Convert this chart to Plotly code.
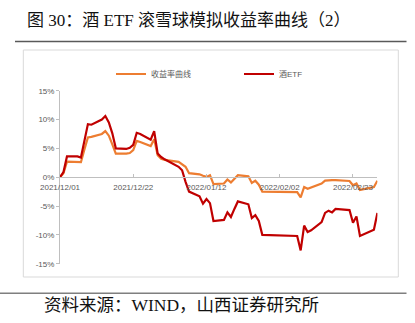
import plotly.graph_objects as go

# ---------------- data ----------------
dates = [
    "2021-12-01", "2021-12-02", "2021-12-03", "2021-12-06", "2021-12-07", "2021-12-08",
    "2021-12-09", "2021-12-10", "2021-12-13", "2021-12-14", "2021-12-15", "2021-12-16",
    "2021-12-17", "2021-12-20", "2021-12-21", "2021-12-22", "2021-12-23", "2021-12-24",
    "2021-12-27", "2021-12-28", "2021-12-29", "2021-12-30", "2021-12-31",
    "2022-01-04", "2022-01-05", "2022-01-06", "2022-01-07", "2022-01-10", "2022-01-11",
    "2022-01-12", "2022-01-13", "2022-01-14", "2022-01-17", "2022-01-18", "2022-01-19",
    "2022-01-20", "2022-01-21", "2022-01-24", "2022-01-25", "2022-01-26", "2022-01-27",
    "2022-01-28",
    "2022-02-07", "2022-02-08", "2022-02-09", "2022-02-10", "2022-02-11", "2022-02-14",
    "2022-02-15", "2022-02-16", "2022-02-17", "2022-02-18", "2022-02-21", "2022-02-22",
    "2022-02-23", "2022-02-24", "2022-02-25", "2022-02-28", "2022-03-01", "2022-03-02",
]

# 收益率曲线 (%)
yield_curve = [
    0.0, 0.7, 2.7, 2.7, 2.6, 4.8,
    6.9, 7.0, 7.5, 8.0, 7.2, 5.7,
    4.1, 4.1, 4.2, 4.7, 6.3, 6.1,
    5.4, 6.6, 3.8, 3.2, 3.0,
    2.65, 2.3, 1.8, 0.7, 0.5, 0.25,
    0.05, 0.35, -1.2, -1.1, -0.4, -0.9,
    -0.3, 0.35, 0.15, -1.0, -0.6, -1.3,
    -2.5,
    -2.6, -3.5, -1.7, -2.0, -1.8, -1.1,
    -0.6, -0.5, -0.5, -0.5, -0.6, -0.65,
    -1.4, -1.1, -2.2, -1.8, -1.7, -0.6,
]

# 酒ETF (%)
etf_curve = [
    0.0, 0.9, 3.6, 3.6, 3.4, 6.2,
    9.2, 9.1, 10.0, 10.6, 9.5, 7.6,
    5.0, 4.9, 5.1, 5.6, 7.7, 7.5,
    6.5, 8.0, 4.1, 3.5, 3.1,
    1.8, 1.2, -0.8, -2.5, -3.3, -4.6,
    -3.8, -4.5, -7.6, -7.4, -6.1, -6.9,
    -5.5, -4.2, -4.7, -7.1, -6.6, -7.6,
    -10.0,
    -10.2, -12.7, -8.4, -9.5, -9.2, -7.8,
    -6.2, -5.8, -6.1, -5.5, -5.6, -5.7,
    -7.9, -6.8, -10.2, -9.3, -9.1, -6.2,
]

series_names = ["收益率曲线", "酒ETF"]
series_colors = ["#ED7D31", "#C00000"]

y_tick_vals = [-15, -10, -5, 0, 5, 10, 15]
y_tick_text = ["-15%", "-10%", "-5%", "0%", "5%", "10%", "15%"]

title_text = "图 30：酒 ETF 滚雪球模拟收益率曲线（2）"
source_text = "资料来源：WIND，山西证券研究所"

# ---------------- layout helpers ----------------
W, H = 415, 323


def px(x):
    return x / W


def py(y):
    return 1 - y / H


AX_COLOR = "#BFBFBF"
TXT_COLOR = "#595959"
SANS = "Liberation Sans, Arial, Noto Sans CJK SC, sans-serif"
SERIF = "Liberation Serif, Times New Roman, Noto Sans CJK SC, serif"

y_top_px, y_bot_px = 90.7, 263.7
zero_px = (y_top_px + y_bot_px) / 2

fig = go.Figure()
for name, vals, col in zip(series_names, [yield_curve, etf_curve], series_colors):
    fig.add_trace(go.Scatter(
        x=dates, y=vals, name=name, mode="lines",
        line=dict(color=col, width=2.2),
    ))

fig.update_layout(
    width=W, height=H,
    margin=dict(l=0, r=0, t=0, b=0, autoexpand=False),
    paper_bgcolor="white", plot_bgcolor="rgba(0,0,0,0)",
    showlegend=True,
    legend=dict(
        orientation="h", x=px(111), y=py(74), xanchor="left", yanchor="middle",
        font=dict(family=SANS, size=8, color=TXT_COLOR),
        bgcolor="rgba(0,0,0,0)", entrywidth=83, entrywidthmode="pixels",
        itemwidth=30,
    ),
    xaxis=dict(
        type="date", automargin=False,
        domain=[px(60), px(377.4)],
        range=["2021-12-01", "2022-03-02"],
        tick0="2021-12-01", dtick=21 * 86400000,
        tickformat="%Y/%m/%d",
        ticks="inside", ticklen=3, tickcolor=AX_COLOR, tickwidth=1,
        showline=True, linecolor=AX_COLOR, linewidth=1,
        showgrid=False, zeroline=False,
        anchor="free", position=py(zero_px),
        ticklabelstandoff=2,
        tickfont=dict(family=SANS, size=8, color=TXT_COLOR),
    ),
    yaxis=dict(
        automargin=False,
        domain=[py(y_bot_px), py(y_top_px)],
        range=[-15, 15],
        tickvals=y_tick_vals, ticktext=y_tick_text,
        ticks="outside", ticklen=3, tickcolor=AX_COLOR, tickwidth=1,
        showline=True, linecolor=AX_COLOR, linewidth=1,
        showgrid=False, zeroline=False,
        tickfont=dict(family=SANS, size=8, color=TXT_COLOR),
    ),
    shapes=[
        dict(type="rect", xref="paper", yref="paper",
             x0=px(23.3), x1=px(398.3), y0=py(50), y1=py(277),
             line=dict(color="#D9D9D9", width=1), layer="below"),
        dict(type="line", xref="paper", yref="paper",
             x0=px(15), x1=px(406.5), y0=py(41.5), y1=py(41.5),
             line=dict(color="#595959", width=1.5)),
        dict(type="line", xref="paper", yref="paper",
             x0=0, x1=px(406.5), y0=py(293.3), y1=py(293.3),
             line=dict(color="#7F7F7F", width=1.5)),
    ],
    annotations=[
        dict(text=title_text, xref="paper", yref="paper",
             x=px(25), y=py(20.5), xanchor="left", yanchor="middle", align="left",
             showarrow=False, font=dict(family=SERIF, size=17, color="#111111")),
        dict(text=source_text, xref="paper", yref="paper",
             x=px(41.5), y=py(305), xanchor="left", yanchor="middle", align="left",
             showarrow=False, font=dict(family=SERIF, size=17.5, color="#111111")),
    ],
)

fig.write_html("out.html")
